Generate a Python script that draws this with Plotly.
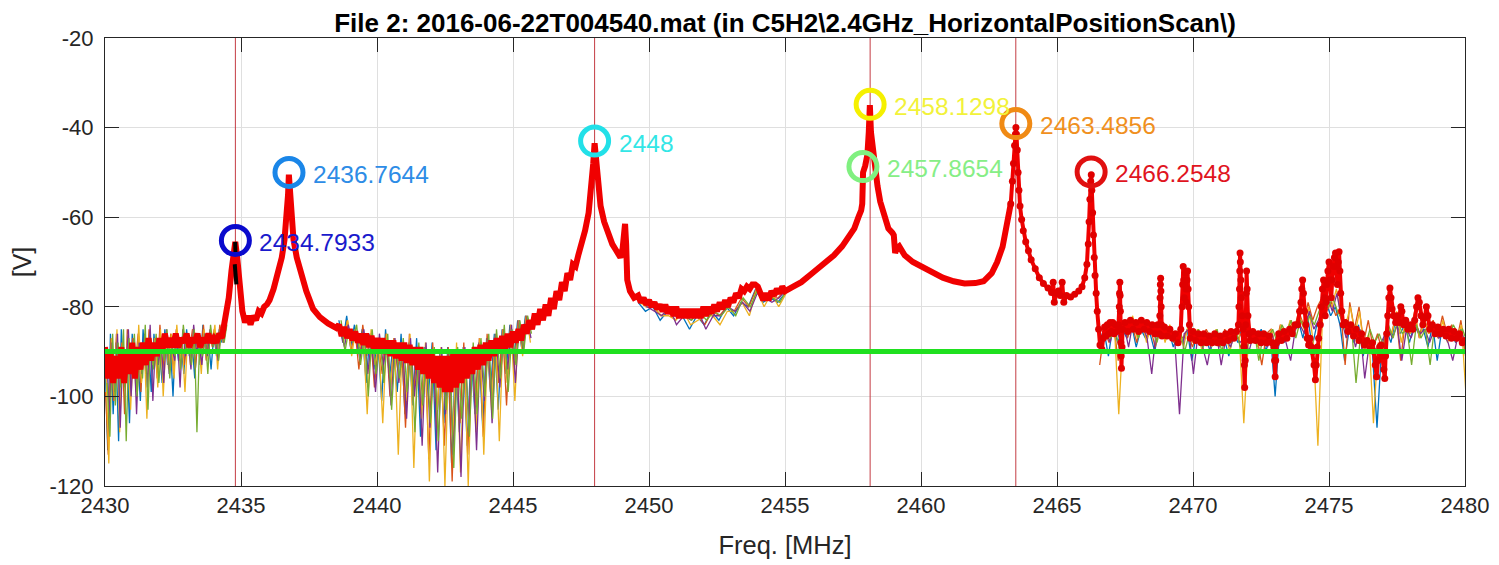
import numpy as np
import plotly.graph_objects as go

# ---------------- text / axes ----------------
title_text = "<b>File 2: 2016-06-22T004540.mat (in C5H2\\2.4GHz_HorizontalPositionScan\\)</b>"
x_title = "Freq. [MHz]"
y_title = "[V]"
x_ticks = [2430, 2435, 2440, 2445, 2450, 2455, 2460, 2465, 2470, 2475, 2480]
y_ticks = [-120, -100, -80, -60, -40, -20]
y_tick_text = ["-120", "-100", "-80", "-60", "-40", "-20"]

threshold_level = -90
marker_line_freqs = [2434.7933, 2448.0, 2458.1298, 2463.4856]

# ---------------- detected peaks ----------------
peak_freqs = [2434.7933, 2436.7644, 2448.0, 2458.1298, 2457.8654, 2463.4856, 2466.2548]
peak_vals = [-65.2, -50.0, -43.0, -34.8, -48.7, -39.1, -49.9]
peak_labels = ["2434.7933", "2436.7644", "2448", "2458.1298", "2457.8654", "2463.4856", "2466.2548"]
peak_colors = ["#0A0ACD", "#1A86E8", "#22E0E8", "#F5F000", "#80F080", "#F08A14", "#E01010"]
label_colors = ["#1A1ACC", "#2D8CE6", "#33E6E6", "#F2F23A", "#86EE86", "#F0901E", "#E0141E"]

# ---------------- red (selected) trace, segment by segment ----------------
red_a_range = (2430.0, 2434.3)
red_a_y = [-89, -96, -90, -97, -91, -96, -89, -97, -90, -95, -88, -96, -89, -94, -88, -93, -87, -92, -88, -91,
           -87, -90, -86, -89, -87, -89, -86, -89, -87, -88, -86, -89, -87, -88, -86, -89, -87, -88, -86, -88,
           -87, -88, -86, -87]

red_p1_x = [2434.35, 2434.45, 2434.55, 2434.65, 2434.72, 2434.79, 2434.86, 2434.95, 2435.05, 2435.15, 2435.25,
            2435.35, 2435.45, 2435.55, 2435.65, 2435.75, 2435.85, 2435.95, 2436.05, 2436.2, 2436.35, 2436.5,
            2436.6, 2436.68, 2436.73, 2436.76, 2436.8, 2436.85, 2436.93, 2437.05, 2437.2, 2437.4, 2437.65,
            2437.9, 2438.2, 2438.5]
red_p1_y = [-85, -82, -78, -72, -67, -65.5, -69, -76, -81, -83.5, -82, -84, -82, -83, -81, -81.5, -80, -79.5,
            -78.5, -76, -73, -69, -65, -60.5, -55, -50.5, -55, -60, -65, -69, -72.5, -76.5, -80.5, -82.3, -83.7,
            -84.7]

red_b_range = (2438.6, 2445.6)
red_b_y = [-84, -86.5, -84.5, -87, -85, -87.5, -85.5, -88, -86, -88.5,
           -86, -89, -86.5, -89.5, -87, -90, -87, -90.5, -87.5, -91,
           -87.5, -91.5, -88, -92, -88, -92.5, -88.5, -93, -89, -94,
           -89, -95, -89.5, -96, -90, -97, -91, -98, -91, -99,
           -91, -99, -90.5, -98, -90, -97, -90, -96, -89.5, -95,
           -89, -94, -88.5, -93, -88, -92, -87.5, -91, -87, -90,
           -86.5, -89.5, -86, -89, -85.5, -88, -85, -87.5, -84, -86, -83]

red_p2_x = [2445.7, 2445.8, 2445.9, 2446.0, 2446.1, 2446.2, 2446.3, 2446.4, 2446.5, 2446.6, 2446.7, 2446.8,
            2446.9, 2447.0, 2447.1, 2447.2, 2447.3, 2447.4, 2447.5, 2447.65, 2447.78, 2447.88, 2447.95,
            2448.0, 2448.05, 2448.12, 2448.22, 2448.35, 2448.5, 2448.65, 2448.8, 2448.95, 2449.03, 2449.08,
            2449.12, 2449.16, 2449.2, 2449.3, 2449.45]
red_p2_y = [-85, -81.5, -84, -80.5, -83, -79.5, -82, -78, -80.5, -76.5, -78.5, -74.5, -76.5, -72.5, -74, -70.5,
            -71, -68.5, -66.5, -63, -59, -54, -48, -43.5, -47, -53, -57.5, -61, -64,
            -66, -67.5, -69, -67, -62, -61.5, -66, -74, -76.5, -78]

red_c_range = (2449.6, 2455.0)
red_c_y = [-77.5, -79, -78, -79.5, -78.5, -80, -79, -80.5, -79.5, -81,
           -79.5, -81.5, -80, -82, -80, -82.5, -80.5, -82.5, -80.5, -82.5,
           -80.5, -82.5, -80.5, -82.5, -80, -82, -80, -81.5, -79.5, -81,
           -79, -80.5, -78.5, -80, -78, -79, -77, -78, -76, -76.5,
           -75.5, -76, -75, -75, -75.5, -77, -78.5, -77, -78.5, -76.5,
           -77.5, -76, -77, -75.5, -76.5]

red_p3_x = [2455.3, 2455.6, 2456.0, 2456.4, 2456.8, 2457.1, 2457.35, 2457.55, 2457.7, 2457.8, 2457.84, 2457.87,
            2457.95, 2458.03, 2458.08, 2458.12, 2458.16, 2458.22, 2458.3, 2458.4, 2458.5, 2458.65, 2458.8,
            2458.95, 2459.0, 2459.05, 2459.1, 2459.2, 2459.4, 2459.7, 2460.0, 2460.4, 2460.8, 2461.2, 2461.6,
            2462.0, 2462.3, 2462.6, 2462.8, 2463.0, 2463.15, 2463.3]
red_p3_y = [-75.5, -74.5, -72.5, -70.5, -68.5, -66.5, -64.5, -62.5, -60, -58.5, -57, -50, -48.5, -46, -41, -35,
            -41, -44.5, -48, -53, -56.5, -60, -62.5, -63.5, -64, -68, -67, -66.5, -68.5, -70, -71, -72.5, -73.5,
            -74.3, -74.8, -74.7, -74.3, -72.5, -70, -66.6, -62, -57]

red_e_x = [2463.3, 2463.36, 2463.4, 2463.44, 2463.47, 2463.49, 2463.51, 2463.54, 2463.57, 2463.6, 2463.64,
           2463.7, 2463.76, 2463.85, 2463.95, 2464.05, 2464.2, 2464.35, 2464.5, 2464.67, 2464.8, 2464.86,
           2464.9, 2464.97, 2465.05, 2465.12, 2465.19, 2465.25, 2465.35, 2465.5, 2465.65, 2465.8, 2465.92,
           2466.02, 2466.1, 2466.15, 2466.18, 2466.21, 2466.24, 2466.26, 2466.28, 2466.31, 2466.34, 2466.37,
           2466.4, 2466.44, 2466.48, 2466.53, 2466.58, 2466.65]
red_e_y = [-57, -52, -48, -44, -41.5, -40, -41.5, -45, -50, -54, -57.5, -60.5, -63, -65.5, -67.5, -69.5, -71.5,
           -73.5, -74.8, -75.8, -76.8, -74.5, -79, -77, -76.5, -77.5, -74.5, -79, -77.5, -77.8, -77.2, -76.5,
           -75.5, -73.5, -70.5, -66, -61, -56, -52, -50.5, -54, -59, -64, -69, -73, -77, -81, -85, -88.5, -89.5]

red_d_x = [2466.7, 2466.75, 2466.8, 2466.85, 2466.9, 2466.95, 2467.0, 2467.05, 2467.1, 2467.15, 2467.2,
           2467.26, 2467.29, 2467.3, 2467.31, 2467.32, 2467.33, 2467.34, 2467.35, 2467.36, 2467.37, 2467.39, 2467.41,
           2467.5, 2467.6, 2467.7, 2467.8, 2467.9, 2468.0, 2468.1, 2468.2, 2468.3, 2468.4, 2468.5, 2468.6, 2468.7,
           2468.76, 2468.78, 2468.79, 2468.8, 2468.81, 2468.82, 2468.83, 2468.84, 2468.86,
           2468.95, 2469.05, 2469.15, 2469.25, 2469.35, 2469.45, 2469.55,
           2469.6, 2469.62, 2469.64, 2469.66, 2469.68, 2469.7, 2469.72, 2469.74, 2469.76, 2469.78, 2469.8, 2469.82,
           2469.84, 2469.87, 2469.9,
           2470.0, 2470.1, 2470.2, 2470.3, 2470.4, 2470.5, 2470.6, 2470.7, 2470.8, 2470.9, 2471.0, 2471.1, 2471.2,
           2471.3, 2471.4, 2471.5, 2471.6, 2471.67,
           2471.69, 2471.71, 2471.72, 2471.73, 2471.74, 2471.76, 2471.78, 2471.81, 2471.84, 2471.87, 2471.89,
           2471.9, 2471.92, 2471.94, 2471.96, 2471.97, 2471.99, 2472.02, 2472.06,
           2472.1, 2472.2, 2472.3, 2472.4, 2472.5, 2472.6, 2472.7, 2472.8, 2472.9,
           2472.97, 2473.0, 2473.02, 2473.04, 2473.07,
           2473.15, 2473.25, 2473.35, 2473.45, 2473.55, 2473.65, 2473.75, 2473.85, 2473.92,
           2473.97, 2474.0, 2474.03, 2474.06, 2474.1, 2474.15, 2474.2, 2474.25, 2474.3, 2474.35,
           2474.4, 2474.45, 2474.5, 2474.53, 2474.57,
           2474.62, 2474.68, 2474.72, 2474.76, 2474.8, 2474.83, 2474.86, 2474.89, 2474.92, 2474.96, 2475.0,
           2475.04, 2475.08, 2475.12, 2475.16, 2475.2, 2475.24, 2475.28, 2475.31, 2475.34, 2475.37, 2475.4,
           2475.43, 2475.47, 2475.52,
           2475.6, 2475.7, 2475.8, 2475.9, 2476.0, 2476.1, 2476.2, 2476.3, 2476.4, 2476.5,
           2476.6, 2476.65, 2476.7, 2476.75, 2476.8, 2476.86, 2476.92, 2476.97, 2477.02, 2477.05, 2477.08,
           2477.12, 2477.16, 2477.2, 2477.24, 2477.28, 2477.32, 2477.38, 2477.45, 2477.52, 2477.58, 2477.64,
           2477.68, 2477.74, 2477.82, 2477.9, 2478.0, 2478.08,
           2478.15, 2478.22, 2478.27, 2478.32, 2478.38, 2478.45, 2478.52, 2478.58, 2478.64, 2478.7,
           2478.8, 2478.9, 2479.0, 2479.1, 2479.2, 2479.3, 2479.4, 2479.5, 2479.6, 2479.7, 2479.8, 2479.9, 2480.0]
red_d_y = [-87, -84.5, -86.5, -84, -86, -83.5, -85.5, -83.5, -86, -84, -85.5,
           -84, -80, -77, -74.5, -77.5, -81, -85, -88, -91, -93.7, -89, -85,
           -83.5, -85.5, -83, -85, -83.5, -85.5, -83, -85, -83.5, -85.5, -84, -86, -84,
           -86, -82, -78, -75, -73.6, -76.5, -80, -84, -86.5,
           -84.5, -86.5, -85, -87, -86, -88, -85,
           -80, -75, -71, -74, -78, -75, -72.5, -76, -79, -74, -72, -76,
           -80, -84, -87,
           -85.5, -87.5, -86, -88, -86, -88, -86.5, -88, -86, -88, -86.5, -88, -86,
           -87.5, -85.5, -87, -85.5, -84,
           -80, -76, -72, -68, -70, -74, -78, -82, -85, -89, -93,
           -98, -92, -84, -77, -72, -76, -82, -86,
           -87.5, -85.5, -87.5, -86, -88, -86, -88, -86.5, -88,
           -89, -92, -95.6, -92, -88,
           -86, -87.5, -85.5, -87, -85, -86, -84, -84, -81,
           -79, -76, -74, -77, -81, -84, -87, -88.5, -87, -89,
           -90, -93, -96.3, -93, -89,
           -87, -84, -80, -76, -74, -78, -82, -79, -75, -72, -70,
           -74, -78, -74, -71, -69, -68, -71, -75, -70, -67.7, -72,
           -77, -81, -84,
           -83.5, -85.5, -84, -86.5, -85, -87.5, -86, -88.5, -87.5, -89.5,
           -88, -90, -93, -95.6, -92, -89, -88.5, -91, -94, -96, -91,
           -86, -82, -78, -75.8, -78, -80.5, -82, -83.5, -82, -83.5, -80,
           -81, -84, -83, -85, -84, -85,
           -83, -80, -78, -79, -82, -84, -82.5, -80, -82, -85,
           -84, -86, -84.5, -86, -85, -86.5, -85, -87, -85.5, -87, -86, -88, -87.5]

black_x = [2434.785, 2434.795, 2434.8, None, 2434.77, 2434.785, 2434.8, 2434.815, 2434.83]
black_y = [-65.5, -67, -68.5, None, -70.5, -72, -73, -74, -75]

# ---------------- other measurement traces (noise), per region ----------------
noise_a_range = (2430.0, 2434.4)
noise_b_range = (2438.6, 2445.6)
noise_c_range = (2449.6, 2455.0)
noise_d_range = (2466.55, 2480.0)
noise_names = ["blue", "orange", "yellow", "purple", "green"]
noise_colors = ["#0072BD", "#D95319", "#EDB120", "#7E2F8E", "#77AC30"]
noise_shift = [0.0, 0.02, 0.04, 0.06, 0.08]

blue_a = [-92, -112, -86, -104, -88, -110, -85, -98, -89, -106, -86, -96, -90, -101, -85, -95, -88, -99, -86, -94,
          -89, -97, -85, -93, -88, -100, -86, -92, -89, -95, -85, -91, -88, -96, -86, -93, -84, -90, -87, -94,
          -86, -91, -85, -88, -84]
orange_a = [-99, -113, -87, -101, -86, -96, -88, -104, -85, -97, -87, -93, -86, -99, -88, -95, -85, -92, -87, -96,
            -84, -94, -88, -91, -86, -95, -85, -90, -87, -93, -86, -89, -85, -94, -87, -90, -84, -92, -86, -88,
            -85, -91, -84, -87, -85]
yellow_a = [-95, -115, -87, -100, -85, -108, -88, -96, -86, -103, -89, -99, -84, -97, -88, -105, -86, -93, -87, -98,
            -85, -100, -88, -94, -86, -96, -84, -92, -88, -99, -86, -93, -85, -90, -87, -95, -85, -92, -86, -89,
            -84, -94, -86, -88, -85]
purple_a = [-90, -105, -88, -99, -86, -107, -89, -94, -85, -100, -87, -104, -88, -95, -86, -98, -84, -101, -87, -93,
            -88, -97, -85, -95, -89, -92, -86, -98, -85, -91, -87, -94, -84, -90, -88, -93, -86, -91, -85, -89,
            -87, -92, -85, -88, -84]
green_a = [-97, -109, -86, -102, -88, -98, -85, -110, -87, -95, -86, -100, -89, -96, -84, -103, -87, -94, -86, -97,
           -88, -92, -85, -96, -87, -91, -86, -94, -84, -90, -88, -93, -85, -108, -87, -91, -86, -95, -84, -89,
           -86, -92, -85, -88, -84]

blue_b = [-83, -88, -82, -89, -84, -90, -85, -97, -86, -94, -87, -101, -85, -96, -88, -99, -86, -104, -88, -102,
          -87, -109, -89, -100, -88, -112, -90, -106, -89, -115, -91, -108, -89, -111, -90, -104, -88, -107, -87,
          -99, -86, -103, -85, -95, -84, -92, -83, -89, -82, -86]
orange_b = [-84, -88, -83, -90, -85, -94, -84, -91, -86, -98, -88, -95, -86, -100, -87, -94, -88, -107, -86, -101,
            -89, -104, -90, -114, -88, -107, -90, -111, -89, -119, -91, -106, -88, -113, -90, -102, -87, -109, -86,
            -100, -87, -97, -85, -102, -84, -94, -83, -89, -82, -86]
yellow_b = [-84, -87, -83, -91, -85, -89, -86, -104, -85, -93, -88, -106, -86, -98, -87, -113, -88, -101, -86, -116,
            -89, -105, -88, -119, -90, -103, -89, -120, -91, -110, -88, -117, -90, -120, -89, -108, -87, -113, -88,
            -103, -86, -110, -85, -97, -84, -101, -83, -91, -82, -88]
purple_b = [-85, -89, -84, -88, -86, -92, -85, -95, -87, -99, -86, -93, -88, -102, -87, -97, -89, -105, -87, -100,
            -90, -111, -88, -107, -91, -117, -89, -104, -90, -113, -92, -118, -89, -106, -90, -112, -88, -101, -87,
            -106, -86, -98, -85, -94, -84, -97, -83, -90, -82, -87]
green_b = [-83, -90, -85, -88, -84, -93, -86, -100, -85, -95, -87, -97, -86, -103, -88, -96, -87, -99, -89, -108,
           -88, -102, -90, -106, -89, -110, -91, -103, -90, -116, -89, -105, -91, -109, -88, -104, -87, -100, -86,
           -105, -85, -96, -84, -99, -85, -93, -83, -90, -82, -86]

blue_c = [-79, -81, -80, -83, -81, -82, -82, -85, -82, -84, -81, -83, -80, -82, -79, -80, -76, -79, -78, -79, -77]
orange_c = [-78, -80, -80, -82, -81, -83, -81, -82, -82, -84, -81, -82, -80, -81, -78, -80, -76, -78, -78, -78, -76]
yellow_c = [-79, -80, -80, -82, -82, -83, -81, -84, -83, -82, -82, -84, -81, -81, -79, -82, -76, -80, -77, -80, -77]
purple_c = [-78, -80, -81, -82, -80, -84, -82, -83, -81, -85, -82, -82, -80, -81, -79, -81, -77, -78, -79, -78, -76]
green_c = [-79, -79, -80, -81, -81, -82, -82, -83, -81, -83, -81, -82, -80, -82, -78, -80, -76, -78, -78, -79, -76]

blue_d = [-88, -85, -91, -84, -88, -85, -87, -84, -89, -85, -87, -86, -90, -84, -87, -85, -89, -86, -88, -85,
          -92, -86, -88, -87, -90, -86, -89, -87, -91, -86, -88, -84, -89, -86, -87, -85, -90, -86, -100, -85,
          -88, -84, -86, -83, -87, -82, -89, -84, -83, -79, -82, -80, -84, -92, -85, -88, -84, -91, -87, -90,
          -107, -89, -85, -88, -83, -86, -84, -88, -84, -86, -85, -89, -84, -92, -85, -87, -86, -88, -85, -90]
orange_d = [-93, -85, -88, -84, -92, -83, -87, -84, -88, -83, -87, -85, -89, -84, -86, -85, -88, -86, -87, -85,
            -89, -86, -88, -85, -87, -86, -89, -85, -88, -86, -87, -85, -88, -86, -87, -93, -86, -85, -89, -84,
            -86, -84, -85, -81, -84, -79, -83, -80, -78, -81, -79, -82, -80, -93, -79, -85, -80, -88, -83, -89,
            -86, -90, -84, -86, -82, -92, -83, -86, -81, -87, -82, -86, -83, -87, -82, -86, -84, -88, -83, -91]
yellow_d = [-90, -84, -87, -83, -104, -84, -86, -82, -87, -83, -88, -84, -86, -83, -88, -84, -87, -85, -89, -84,
            -88, -85, -90, -86, -89, -85, -88, -86, -90, -85, -86, -106, -87, -85, -89, -86, -88, -85, -90, -84,
            -87, -83, -86, -82, -85, -80, -88, -111, -82, -78, -80, -76, -82, -84, -80, -86, -81, -90, -86, -106,
            -88, -92, -84, -86, -81, -88, -83, -86, -82, -87, -83, -86, -84, -87, -83, -88, -85, -87, -84, -100]
purple_d = [-87, -85, -88, -84, -87, -84, -89, -83, -86, -84, -87, -95, -85, -84, -87, -85, -88, -104, -86, -85,
            -95, -86, -89, -93, -87, -86, -93, -87, -89, -86, -88, -87, -90, -86, -88, -87, -89, -86, -91, -85,
            -88, -92, -85, -84, -86, -81, -85, -83, -80, -78, -81, -77, -83, -87, -84, -89, -85, -96, -88, -90,
            -89, -87, -85, -87, -84, -92, -85, -87, -84, -86, -85, -88, -85, -87, -86, -88, -92, -87, -86, -89]
green_d = [-89, -84, -87, -85, -90, -84, -86, -83, -87, -84, -86, -85, -88, -84, -87, -86, -88, -85, -90, -86,
           -87, -85, -89, -86, -88, -85, -90, -86, -88, -85, -89, -87, -88, -85, -92, -86, -87, -85, -88, -84,
           -86, -83, -87, -83, -85, -82, -84, -81, -79, -80, -78, -81, -83, -86, -84, -97, -86, -89, -85, -88,
           -86, -89, -84, -87, -83, -86, -85, -93, -84, -87, -85, -93, -84, -86, -85, -87, -84, -86, -85, -88]

noise_a = [blue_a, orange_a, yellow_a, purple_a, green_a]
noise_b = [blue_b, orange_b, yellow_b, purple_b, green_b]
noise_c = [blue_c, orange_c, yellow_c, purple_c, green_c]
noise_d = [blue_d, orange_d, yellow_d, purple_d, green_d]


def grid(rng, vals, shift=0.0):
    return list(np.linspace(rng[0] + shift, rng[1] + shift, len(vals)))


fig = go.Figure()

# vertical marker lines
for f in marker_line_freqs:
    fig.add_trace(go.Scatter(x=[f, f], y=[y_ticks[0], y_ticks[-1]], mode="lines",
                             line=dict(color="#C43C44", width=1), hoverinfo="skip"))

# noise traces
for i, name in enumerate(noise_names):
    xs, ys = [], []
    for rng, lst in [(noise_a_range, noise_a[i]), (noise_b_range, noise_b[i]),
                     (noise_c_range, noise_c[i]), (noise_d_range, noise_d[i])]:
        xs += grid(rng, lst, noise_shift[i]) + [None]
        ys += list(lst) + [None]
    fig.add_trace(go.Scatter(x=xs, y=ys, mode="lines", name=name,
                             line=dict(color=noise_colors[i], width=1.3)))

# red trace (left part: line only)
red_left_x = grid(red_a_range, red_a_y) + red_p1_x + grid(red_b_range, red_b_y) + red_p2_x + \
    grid(red_c_range, red_c_y) + red_p3_x
red_left_y = red_a_y + red_p1_y + red_b_y + red_p2_y + red_c_y + red_p3_y
fig.add_trace(go.Scatter(x=red_left_x, y=red_left_y, mode="lines",
                         line=dict(color="#F00000", width=6)))
# red trace (right part: line + dots)
fig.add_trace(go.Scatter(x=red_e_x + red_d_x, y=red_e_y + red_d_y, mode="lines+markers",
                         line=dict(color="#F00000", width=4),
                         marker=dict(color="#E00000", size=7)))
# black trace piece at first peak
fig.add_trace(go.Scatter(x=black_x, y=black_y, mode="lines", line=dict(color="#000000", width=4)))

# threshold
fig.add_trace(go.Scatter(x=[x_ticks[0], x_ticks[-1]], y=[threshold_level, threshold_level], mode="lines",
                         line=dict(color="#1FE01F", width=5)))

# peak circles
for f, v, c in zip(peak_freqs, peak_vals, peak_colors):
    fig.add_trace(go.Scatter(x=[f], y=[v], mode="markers",
                             marker=dict(symbol="circle-open", size=28, color=c, line=dict(width=5, color=c))))

font_fam = "Liberation Sans, Arial, Helvetica"
for f, v, t, c in zip(peak_freqs, peak_vals, peak_labels, label_colors):
    fig.add_annotation(x=f, y=v, text=t, showarrow=False, xanchor="left", yanchor="middle",
                       xshift=22, yshift=-2, font=dict(size=24.5, color=c, family=font_fam))

# page body has an 8px default margin, so the figure margins are offset accordingly
fig.update_layout(
    width=1499, height=565,
    margin=dict(l=97, r=42, t=30, b=87),
    paper_bgcolor="white", plot_bgcolor="white",
    showlegend=False,
    font=dict(family=font_fam, color="#262626"),
    title=dict(text=title_text, x=0.5, xref="paper", xanchor="center", y=0.973, yanchor="middle",
               font=dict(size=26, color="#000000", family=font_fam)),
)
fig.update_xaxes(range=[x_ticks[0], x_ticks[-1]], tickvals=x_ticks, ticks="inside", ticklen=14,
                 tickcolor="#262626", showline=True, linecolor="#262626", linewidth=1, mirror="ticks",
                 showgrid=True, gridcolor="#DFDFDF", zeroline=False, automargin=False,
                 tickfont=dict(size=22, color="#262626"), ticklabelstandoff=0,
                 title=dict(text=x_title, font=dict(size=25.5, color="#262626"), standoff=18))
fig.update_yaxes(range=[y_ticks[0], y_ticks[-1]], tickvals=y_ticks, ticktext=y_tick_text, ticks="inside",
                 ticklen=14, tickcolor="#262626", showline=True, linecolor="#262626", linewidth=1,
                 mirror="ticks", showgrid=True, gridcolor="#DFDFDF", zeroline=False, automargin=False,
                 tickfont=dict(size=22, color="#262626"), ticklabelstandoff=6,
                 title=dict(text=y_title, font=dict(size=25, color="#262626"), standoff=16))

fig.write_html("out.html")
